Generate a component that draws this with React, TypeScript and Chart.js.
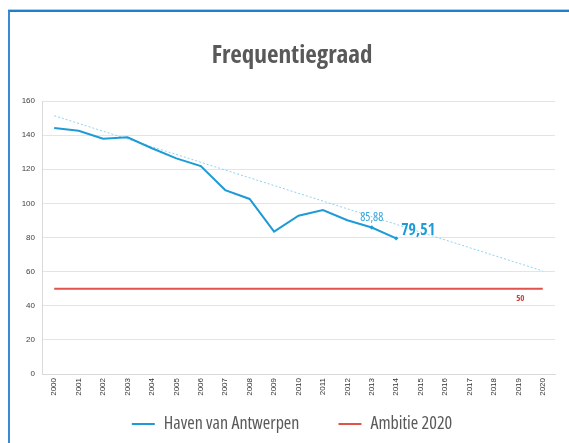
import { useEffect, useRef } from 'react';
import { Chart, registerables } from 'chart.js';

Chart.register(...registerables);

const years = ['2000', '2001', '2002', '2003', '2004', '2005', '2006', '2007', '2008', '2009', '2010',
  '2011', '2012', '2013', '2014', '2015', '2016', '2017', '2018', '2019', '2020'];

const havenValues = [144.2, 142.6, 137.9, 138.7, 132.3, 126.4, 121.9, 107.8, 102.6, 83.4, 92.8,
  96.1, 90.1, 85.88, 79.51];

const ambitieValues = [50, 50, 50, 50, 50, 50, 50, 50, 50, 50, 50,
  50, 50, 50, 50, 50, 50, 50, 50, 50, 50];

const trendValues: (number | null)[] = [151.4, null, null, null, null, null, null, null, null, null, null,
  null, null, null, null, null, null, null, null, null, 60.4];

const yMin = 0;
const yMax = 160;
const yStep = 20;

const markedYears = ['2013', '2014'];
const ambitieLabelYear = '2019';

const COND_BOLD = "'Open Sans Condensed', 'Roboto Condensed', sans-serif";
const OPEN = "'Open Sans', 'Roboto Condensed', sans-serif";
const TICKF = "'Liberation Sans', Arial, sans-serif";
const BLUE = '#1e9bd7';
const RED = '#e0524b';
const LEGEND_GAP = '      ';

const fmt = (v: number) => (Number.isInteger(v) ? String(v) : v.toFixed(2).replace('.', ','));

const valueLabels = {
  id: 'valueLabels',
  afterDatasetsDraw(chart: any) {
    const { ctx } = chart;
    const x = chart.scales.x;
    const y = chart.scales.y;
    ctx.save();
    ctx.textBaseline = 'middle';
    const i1 = years.indexOf(markedYears[0]);
    const v1 = havenValues[i1];
    ctx.font = `condensed 12px ${OPEN}`;
    ctx.fillStyle = '#3aa9de';
    ctx.textAlign = 'center';
    ctx.fillText(fmt(v1), x.getPixelForValue(i1), y.getPixelForValue(v1) - 10);
    const i2 = years.indexOf(markedYears[1]);
    const v2 = havenValues[i2];
    ctx.font = `bold 16px ${COND_BOLD}`;
    ctx.fillStyle = BLUE;
    ctx.textAlign = 'left';
    ctx.fillText(fmt(v2), x.getPixelForValue(i2) + 5, y.getPixelForValue(v2) - 8);
    const i3 = years.indexOf(ambitieLabelYear);
    const v3 = ambitieValues[i3];
    ctx.font = `bold 9px ${COND_BOLD}`;
    ctx.fillStyle = '#d2403a';
    ctx.textAlign = 'center';
    ctx.fillText(fmt(v3), x.getPixelForValue(i3) + 2, y.getPixelForValue(v3) + 9.5);
    ctx.restore();
  },
};

export default function App() {
  const canvasRef = useRef<HTMLCanvasElement | null>(null);

  useEffect(() => {
    if (!canvasRef.current) return;
    const chart = new Chart(canvasRef.current, {
      type: 'line',
      data: {
        labels: years,
        datasets: [
          {
            label: 'Haven van Antwerpen',
            data: havenValues,
            borderColor: BLUE,
            backgroundColor: BLUE,
            borderWidth: 2,
            tension: 0,
            pointRadius: (c: any) => (markedYears.includes(years[c.dataIndex]) ? 2.2 : 0),
            pointStyle: 'rectRot',
            pointBorderWidth: 0,
            order: 1,
          },
          {
            label: 'Ambitie 2020',
            data: ambitieValues,
            borderColor: RED,
            backgroundColor: RED,
            borderWidth: 2,
            pointRadius: 0,
            order: 2,
          },
          {
            label: 'trend',
            data: trendValues,
            borderColor: '#8fd1ef',
            borderWidth: 1,
            borderDash: [2, 2],
            spanGaps: true,
            pointRadius: 0,
            order: 3,
          },
        ],
      },
      options: {
        animation: false,
        responsive: false,
        layout: { padding: { left: 10, right: 0, top: 0, bottom: 0 } },
        plugins: {
          title: {
            display: true,
            text: 'Frequentiegraad',
            color: '#595959',
            font: { family: COND_BOLD, size: 25, weight: 'bold', lineHeight: 1.2 },
            padding: { top: 41, bottom: 30 },
          },
          legend: {
            position: 'bottom',
            labels: {
              color: '#595959',
              font: { family: OPEN, size: 18, weight: 'condensed' },
              boxWidth: 23,
              boxHeight: 2,
              padding: 19,
              generateLabels: (ch: any) =>
                ch.data.datasets
                  .map((ds: any, i: number) => ({
                    text: i === 0 ? ds.label + LEGEND_GAP : ds.label,
                    fillStyle: ds.borderColor,
                    strokeStyle: ds.borderColor,
                    lineWidth: 0,
                    hidden: false,
                    datasetIndex: i,
                    fontColor: '#595959',
                  }))
                  .filter((it: any) => it.datasetIndex !== 2),
            },
          },
          tooltip: { enabled: false },
        },
        scales: {
          x: {
            offset: true,
            grid: { display: false, drawTicks: false },
            border: { display: true, color: '#d9d9d9' },
            ticks: {
              autoSkip: false,
              minRotation: 90,
              maxRotation: 90,
              padding: 4,
              color: '#333333',
              font: { family: TICKF, size: 8 },
            },
            afterFit: (s: any) => {
              s.height = 22;
            },
          },
          y: {
            min: yMin,
            max: yMax,
            ticks: {
              stepSize: yStep,
              padding: 7,
              color: '#404040',
              font: { family: TICKF, size: 8 },
            },
            grid: { color: '#e4e4e4', drawTicks: false },
            border: { display: true, color: '#d9d9d9' },
            afterFit: (s: any) => {
              s.width = 32;
            },
          },
          spacer: {
            position: 'right',
            display: true,
            grid: { display: false, drawTicks: false },
            border: { display: false },
            ticks: { display: false },
            afterFit: (s: any) => {
              s.width = 19;
            },
          },
        },
      },
      plugins: [valueLabels],
    } as any);
    return () => chart.destroy();
  }, []);

  return (
    <div style={{ position: 'fixed', left: 0, top: 0, width: 569, height: 443, background: '#fff', overflow: 'hidden' }}>
      <div
        style={{
          position: 'absolute',
          left: 8,
          top: 10,
          width: 600,
          height: 500,
          borderTop: '2px solid #1f7fcf',
          borderLeft: '2px solid #3a8ad4',
          boxShadow: '0 -1px 0 #c8c8c8',
        }}
      />
      <canvas ref={canvasRef} width={574} height={443} style={{ position: 'absolute', left: 0, top: 0 }} />
    </div>
  );
}
